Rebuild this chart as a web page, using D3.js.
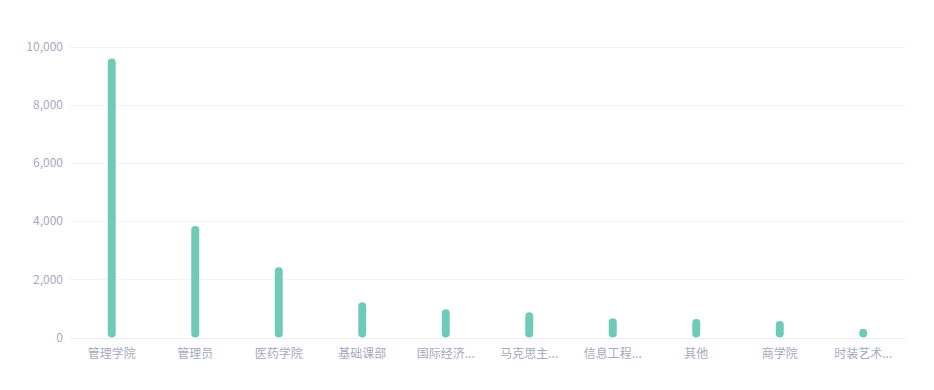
<!DOCTYPE html>
<html><head><meta charset="utf-8">
<script src="https://cdn.jsdelivr.net/npm/d3@7"></script>
<style>
html,body{margin:0;padding:0;background:#fff;}
svg{display:block;}
</style></head>
<body><svg id="c" width="934" height="390"></svg>
<script>
const categories = ["管理学院","管理员","医药学院","基础课部","国际经济...","马克思主...","信息工程...","其他","商学院","时装艺术..."];
const values = [9590, 3830, 2410, 1210, 970, 866, 660, 636, 567, 302];
const yTicks = [0, 2000, 4000, 6000, 8000, 10000];

const svg = d3.select("#c");
const margin = {left: 70, right: 29, top: 46.5, bottom: 52.5};
const W = 934, H = 390;
const x = d3.scaleBand().domain(categories).range([margin.left, W - margin.right]);
const y = d3.scaleLinear().domain([0, 10000]).range([H - margin.bottom, margin.top]);

const labelColor = "#a7a9bf";
const font = "'Noto Sans CJK SC', 'Noto Sans', sans-serif";

// grid lines
svg.append("g").selectAll("line").data(yTicks).join("line")
  .attr("x1", margin.left).attr("x2", W - margin.right)
  .attr("y1", d => Math.round(y(d)) + 0.5).attr("y2", d => Math.round(y(d)) + 0.5)
  .attr("stroke", d => d === 0 ? "#eceef3" : "#f2f3f6").attr("stroke-width", 1);

// y axis labels
const yAxis = d3.axisLeft(y).tickValues(yTicks).tickFormat(d3.format(",")).tickSize(0).tickPadding(7);
const gy = svg.append("g").attr("transform", `translate(${margin.left},0)`).call(yAxis);
gy.select(".domain").remove();
gy.selectAll("text").attr("fill", labelColor).style("font-family", font).style("font-size", "12px");

// x axis labels
const xAxis = d3.axisBottom(x).tickSize(0).tickPadding(12);
const gx = svg.append("g").attr("transform", `translate(0,${y(0)})`).call(xAxis);
gx.select(".domain").remove();
gx.selectAll("text").attr("fill", labelColor).style("font-family", font).style("font-size", "12px");

// bars
const bw = 8;
svg.append("g").selectAll("rect").data(values).join("rect")
  .attr("x", (d, i) => x(categories[i]) + x.bandwidth() / 2 - bw / 2)
  .attr("y", d => y(d))
  .attr("width", bw)
  .attr("height", d => y(0) - y(d))
  .attr("rx", bw / 2).attr("ry", bw / 2)
  .attr("fill", "#6fcbb8");
</script></body></html>
